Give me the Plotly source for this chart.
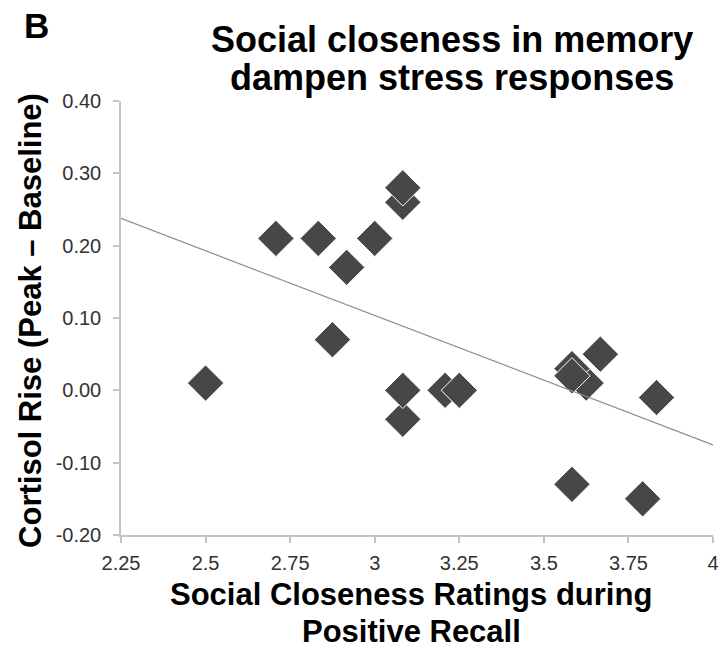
import numpy as np
import plotly.graph_objects as go

# Social closeness ratings (x) and cortisol rise (y) per participant
closeness = [2.5, 2.708, 2.833, 2.917, 3.0, 3.083, 3.083, 2.875, 3.083, 3.083,
             3.208, 3.25, 3.667, 3.625, 3.583, 3.583, 3.833, 3.583, 3.792]
cortisol = [0.01, 0.21, 0.21, 0.17, 0.21, 0.26, 0.28, 0.07, -0.04, 0.00,
            0.00, 0.00, 0.05, 0.01, 0.03, 0.02, -0.01, -0.13, -0.15]

x_ticks = [2.25, 2.5, 2.75, 3.0, 3.25, 3.5, 3.75, 4.0]
x_tick_labels = ["2.25", "2.5", "2.75", "3", "3.25", "3.5", "3.75", "4"]
y_ticks = [-0.2, -0.1, 0.0, 0.1, 0.2, 0.3, 0.4]
y_tick_labels = ["-0.20", "-0.10", "0.00", "0.10", "0.20", "0.30", "0.40"]

# Least-squares trend line across the full x range
slope, intercept = np.polyfit(closeness, cortisol, 1)
fit_x = np.array([x_ticks[0], x_ticks[-1]])
fit_y = slope * fit_x + intercept

FONT = "Liberation Sans, Arial, sans-serif"
AXIS_GREY = "#c4c4c4"
W, H = 726, 654
L, R, T, B = 121, 7, 101, 119
PW, PH = W - L - R, H - T - B


def px_to_paper(px, py):
    return (px - L) / PW, 1 - (py - T) / PH


fig = go.Figure()
fig.add_trace(go.Scatter(
    x=closeness, y=cortisol, mode="markers",
    marker=dict(symbol="diamond", size=28, color="#474747",
                line=dict(color="white", width=1)),
    cliponaxis=False, showlegend=False, hoverinfo="x+y",
))
fig.add_trace(go.Scatter(
    x=fit_x, y=fit_y, mode="lines",
    line=dict(color="#8c8c8c", width=1.2),
    showlegend=False, hoverinfo="skip",
))

axis_style = dict(
    showgrid=False, zeroline=False, showline=True, linecolor=AXIS_GREY,
    linewidth=1.5, ticks="outside", ticklen=6, tickcolor=AXIS_GREY,
    tickwidth=1.5, tickfont=dict(size=20, color="#333333"),
)
fig.update_layout(
    width=W, height=H,
    margin=dict(l=L, r=R, t=T, b=B),
    paper_bgcolor="white", plot_bgcolor="white",
    font=dict(family=FONT, color="#333333"),
    xaxis=dict(range=[x_ticks[0], x_ticks[-1]], tickvals=x_ticks,
               ticktext=x_tick_labels, ticklabelstandoff=3, **axis_style),
    yaxis=dict(range=[y_ticks[0], y_ticks[-1]], tickvals=y_ticks,
               ticktext=y_tick_labels, ticklabelstandoff=8, **axis_style),
)

# Panel letter, title lines and x-axis title lines: (text, x px, y px, size, anchor)
labels = [
    ("<b>B</b>", 21, 25, 35, "left"),
    ("<b>Social closeness in memory</b>", 455, 39, 36, "center"),
    ("<b>dampen stress responses</b>", 455, 78, 36, "center"),
    ("<b>Social Closeness Ratings during</b>", 414, 594, 31, "center"),
    ("<b>Positive Recall</b>", 414, 631, 31, "center"),
]
for text, lx, ly, size, anchor in labels:
    ax, ay = px_to_paper(lx, ly)
    fig.add_annotation(
        text=text, xref="paper", yref="paper", x=ax, y=ay,
        xanchor=anchor, yanchor="middle", showarrow=False,
        font=dict(family=FONT, size=size, color="black"),
    )

ax, ay = px_to_paper(29, 320)
fig.add_annotation(
    text="<b>Cortisol Rise (Peak – Baseline)</b>", xref="paper", yref="paper",
    x=ax, y=ay, textangle=-90, xanchor="center", yanchor="middle",
    showarrow=False, font=dict(family=FONT, size=31, color="black"),
)

fig.write_html("out.html")
